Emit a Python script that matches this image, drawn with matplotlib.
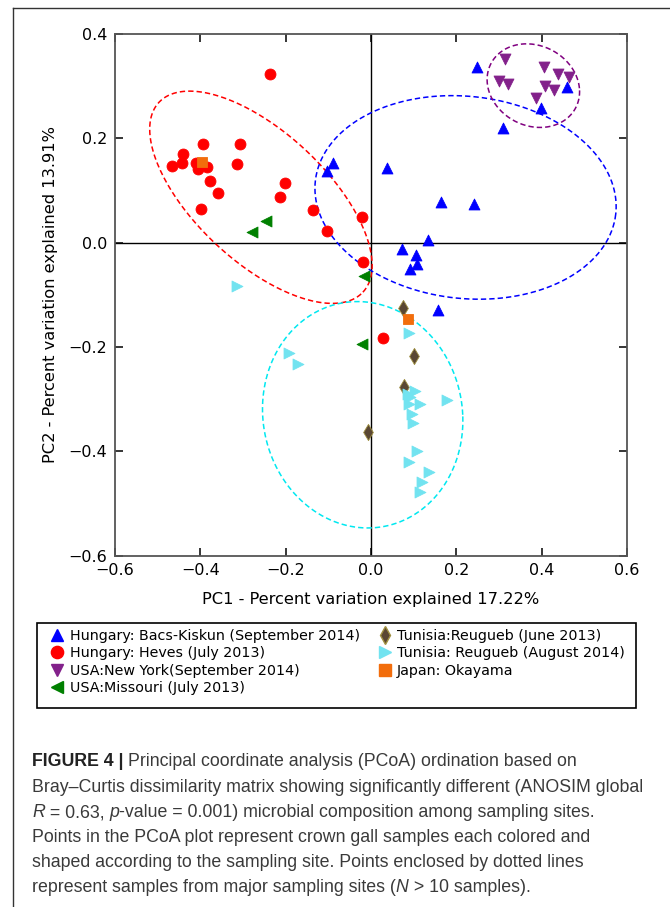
import numpy as np
import matplotlib.pyplot as plt
from matplotlib.patches import Rectangle
from matplotlib.lines import Line2D

# ---- sample coordinates ----
bacs_x = [-0.088, -0.104, 0.248, 0.309, 0.398, 0.459, 0.037, 0.164, 0.241, 0.134,
          0.073, 0.105, 0.107, 0.091, 0.158]
bacs_y = [0.153, 0.138, 0.336, 0.219, 0.258, 0.299, 0.143, 0.077, 0.074, 0.005,
          -0.013, -0.024, -0.040, -0.050, -0.130]

heves_x = [-0.237, -0.393, -0.307, -0.440, -0.467, -0.444, -0.410, -0.405, -0.385, -0.315,
           -0.377, -0.358, -0.399, -0.201, -0.213, -0.135, -0.102, -0.020, -0.018, 0.027]
heves_y = [0.324, 0.189, 0.189, 0.170, 0.147, 0.152, 0.153, 0.141, 0.145, 0.150,
           0.118, 0.096, 0.065, 0.115, 0.088, 0.063, 0.023, 0.050, -0.038, -0.183]

ny_x = [0.314, 0.406, 0.439, 0.464, 0.299, 0.321, 0.408, 0.429, 0.386]
ny_y = [0.352, 0.336, 0.323, 0.318, 0.310, 0.304, 0.300, 0.293, 0.278]

missouri_x = [-0.246, -0.278, -0.016, -0.020]
missouri_y = [0.042, 0.020, -0.064, -0.194]

tun13_x = [0.076, 0.101, 0.077, -0.006]
tun13_y = [-0.126, -0.217, -0.277, -0.363]

tun14_x = [-0.313, -0.192, -0.170, 0.090, 0.103, 0.091, 0.087, 0.090, 0.115, 0.177,
           0.095, 0.098, 0.107, 0.088, 0.136, 0.120, 0.115]
tun14_y = [-0.083, -0.212, -0.233, -0.174, -0.284, -0.295, -0.290, -0.309, -0.309, -0.302,
           -0.329, -0.346, -0.400, -0.420, -0.440, -0.458, -0.479]

japan_x = [-0.395, 0.087]
japan_y = [0.155, -0.147]

# ellipses: centre and two conjugate semi-axes (data units)
ell_centers = [(-0.258, 0.087), (0.2216, 0.0867), (0.3805, 0.301), (-0.0195, -0.330)]
ell_u = [(0.239, -0.182), (0.352, -0.032), (0.108, -0.005), (0.2345, 0.0)]
ell_v = [(0.104, 0.091), (-0.0265, -0.1925), (-0.009, 0.080), (-0.012, 0.217)]
ell_colors = ['#ff0000', '#0000ff', '#800080', '#00e8f0']

ticks = [-0.6, -0.4, -0.2, 0.0, 0.2, 0.4, 0.6]
yticks = [-0.6, -0.4, -0.2, 0.0, 0.2, 0.4]

groups = [
    ("Hungary: Bacs-Kiskun (September 2014)", bacs_x, bacs_y, '^', '#0000ff', 62),
    ("Hungary: Heves (July 2013)", heves_x, heves_y, 'o', '#ff0000', 62),
    ("USA:New York(September 2014)", ny_x, ny_y, 'v', '#83218b', 62),
    ("USA:Missouri (July 2013)", missouri_x, missouri_y, '<', '#008000', 62),
    ("Tunisia:Reugueb (June 2013)", tun13_x, tun13_y, 'd', '#5a4733', 68),
    ("Tunisia: Reugueb (August 2014)", tun14_x, tun14_y, '>', '#72e3f0', 62),
    ("Japan: Okayama", japan_x, japan_y, 's', '#f26d0c', 52),
]

fig = plt.figure(figsize=(6.7, 9.07), dpi=100)
ax = fig.add_axes([0.17164, 0.38743, 0.76418, 0.57508])

ax.axhline(0, color='black', lw=1.0, zorder=1)
ax.axvline(0, color='black', lw=1.0, zorder=1)

t = np.linspace(0, 2 * np.pi, 300)
for (cx, cy), (ux, uy), (vx, vy), col in zip(ell_centers, ell_u, ell_v, ell_colors):
    ax.plot(cx + ux * np.cos(t) + vx * np.sin(t), cy + uy * np.cos(t) + vy * np.sin(t),
            color=col, lw=1.1, dashes=(3.5, 2), zorder=2)

handles = []
for label, xs, ys, mk, col, s in groups:
    ec = '#a09040' if mk == 'd' else col
    ax.scatter(xs, ys, marker=mk, s=s, color=col, edgecolors=ec, linewidths=0.6, zorder=3)
    handles.append(Line2D([], [], marker=mk, ls='none', color=col, markeredgecolor=ec,
                          markersize=np.sqrt(s) * 1.12, label=label))

ax.set_xlim(-0.6, 0.6)
ax.set_ylim(-0.6, 0.4)
ax.set_xticks(ticks)
ax.set_yticks(yticks)
ax.tick_params(direction='in', length=5.5, width=1.1, top=True, right=True,
               labelsize=11.5, pad=5.5)
for sp in ax.spines.values():
    sp.set_color('#555555')
    sp.set_linewidth(1.3)

ax.set_xlabel("PC1 - Percent variation explained 17.22%", fontsize=11.7, va='baseline')
ax.xaxis.set_label_coords(0.5, -0.0928)
ax.set_ylabel("PC2 - Percent variation explained 13.91%", fontsize=11.7)
ax.yaxis.set_label_coords(-0.111, 0.5)

# legend with its own square frame
fig.patches.append(Rectangle((0.0552, 0.2194), 0.894, 0.0940, transform=fig.transFigure,
                             fill=False, edgecolor='black', lw=1.2))
fig.legend(handles=handles, ncol=2, mode='expand', loc='upper left',
           bbox_to_anchor=(0.076, 0.3068 - 0.2, 0.8569, 0.2), frameon=False,
           fontsize=10.3, handlelength=0.9, handletextpad=0.43, labelspacing=0.25,
           borderpad=0, borderaxespad=0, columnspacing=1.0)

# outer frame lines of the figure panel
fig.add_artist(Line2D([13 / 670, 13 / 670], [0, 1 - 8 / 907], color='#333333', lw=1.0))
fig.add_artist(Line2D([13 / 670, 1], [1 - 8 / 907, 1 - 8 / 907], color='#333333', lw=1.0))

# caption, drawn piece by piece so bold / italic parts stay inline
body = dict(family='Liberation Sans', size=12.8, color='#3a3a3a')
bold = dict(family='Liberation Sans', weight='bold', size=12.8, color='#222222')
ital = dict(family='Liberation Sans', style='italic', size=12.8, color='#3a3a3a')
caption = [
    [("FIGURE 4 | ", bold), ("Principal coordinate analysis (PCoA) ordination based on", body)],
    [("Bray\u2013Curtis dissimilarity matrix showing significantly different (ANOSIM global", body)],
    [("R", ital), (" = 0.63, ", body), ("p", ital),
     ("-value = 0.001) microbial composition among sampling sites.", body)],
    [("Points in the PCoA plot represent crown gall samples each colored and", body)],
    [("shaped according to the sampling site. Points enclosed by dotted lines", body)],
    [("represent samples from major sampling sites (", body), ("N", ital),
     (" > 10 samples).", body)],
]
baselines = [766, 791.5, 817, 842, 867, 891.5]
renderer = fig.canvas.get_renderer()


def piece_width(text, props):
    a = fig.text(0, 0, "x" + text + "x", **props)
    b = fig.text(0, 0, "xx", **props)
    w = a.get_window_extent(renderer).width - b.get_window_extent(renderer).width
    a.remove()
    b.remove()
    return w


for line, yb in zip(caption, baselines):
    xp = 32.0
    for text, props in line:
        fig.text(xp / 670, 1 - yb / 907, text, va='baseline', ha='left', **props)
        xp += piece_width(text, props)

fig.savefig("out.png", dpi=100)
